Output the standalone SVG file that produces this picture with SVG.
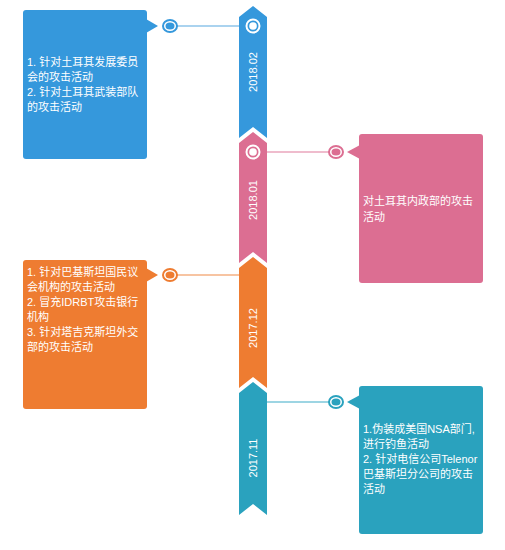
<svg xmlns="http://www.w3.org/2000/svg" width="505" height="550" viewBox="0 0 505 550">
<style>
text{font-family:"Liberation Sans","Noto Sans CJK SC",sans-serif;font-size:11px;fill:#fff}
.rt{text-anchor:middle}
.ring{fill:none;stroke:#fff;stroke-width:2}
.dot{fill:#fff}
.b{fill:#3598dc}.p{fill:#dc6e92}.o{fill:#ee7c31}.t{fill:#2aa2be}
</style>
<rect width="505" height="550" fill="#fff"/>
<g id="ribbon-2018-02">
<polygon class="b" points="239,17 253,6 267,17 267,138 253,127 239,138"/>
<circle class="ring" cx="253" cy="26" r="6.5"/><circle class="dot" cx="253" cy="26" r="3.8"/>
<text class="rt" transform="translate(257,72) rotate(-90)">2018.02</text>
</g>
<g id="ribbon-2018-01">
<polygon class="p" points="239,143 253,132 267,143 267,263 253,252 239,263"/>
<circle class="ring" cx="253" cy="152" r="6.5"/><circle class="dot" cx="253" cy="152" r="3.8"/>
<text class="rt" transform="translate(257,200) rotate(-90)">2018.01</text>
</g>
<g id="ribbon-2017-12">
<polygon class="o" points="239,268 253,257 267,268 267,388 253,377 239,388"/>
<text class="rt" transform="translate(257,328) rotate(-90)">2017.12</text>
</g>
<g id="ribbon-2017-11">
<polygon class="t" points="239,393 253,382 267,393 267,515 253,504 239,515"/>
<text class="rt" transform="translate(257,458) rotate(-90)">2017.11</text>
</g>
<g id="connectors">
<line x1="177" y1="26" x2="239" y2="26" stroke="#8ec5ea" stroke-width="1.5"/>
<ellipse cx="170" cy="26" rx="7" ry="6" fill="#fff" stroke="#3598dc" stroke-width="2"/>
<ellipse cx="170" cy="26" rx="4.5" ry="3.5" class="b"/>
<line x1="267" y1="152" x2="329" y2="152" stroke="#eaa6bd" stroke-width="1.5"/>
<ellipse cx="336" cy="152" rx="7" ry="6" fill="#fff" stroke="#dc6e92" stroke-width="2"/>
<ellipse cx="336" cy="152" rx="4.5" ry="3.5" class="p"/>
<line x1="177" y1="275" x2="239" y2="275" stroke="#f4b183" stroke-width="1.5"/>
<ellipse cx="170" cy="275" rx="7" ry="6" fill="#fff" stroke="#ee7c31" stroke-width="2"/>
<ellipse cx="170" cy="275" rx="4.5" ry="3.5" class="o"/>
<line x1="267" y1="402" x2="329" y2="402" stroke="#7dc7da" stroke-width="1.5"/>
<ellipse cx="336" cy="402" rx="7" ry="6" fill="#fff" stroke="#2aa2be" stroke-width="2"/>
<ellipse cx="336" cy="402" rx="4.5" ry="3.5" class="t"/>
</g>
<g id="box-2018-02">
<rect class="b" x="23" y="10" width="124" height="149" rx="3"/>
<polygon class="b" points="146,19 158,26 146,33"/>
<text x="27" y="66">1. 针对土耳其发展委员</text>
<text x="27" y="81">会的攻击活动</text>
<text x="27" y="96">2. 针对土耳其武装部队</text>
<text x="27" y="111">的攻击活动</text>
</g>
<g id="box-2018-01">
<rect class="p" x="359" y="134" width="124" height="149" rx="3"/>
<polygon class="p" points="360,145 347,152 360,159"/>
<text x="363" y="205">对土耳其内政部的攻击</text>
<text x="363" y="221">活动</text>
</g>
<g id="box-2017-12">
<rect class="o" x="23" y="260" width="124" height="149" rx="3"/>
<polygon class="o" points="146,268 158,275 146,282"/>
<text x="27" y="276">1. 针对巴基斯坦国民议</text>
<text x="27" y="291">会机构的攻击活动</text>
<text x="27" y="306">2. 冒充IDRBT攻击银行</text>
<text x="27" y="321">机构</text>
<text x="27" y="336">3. 针对塔吉克斯坦外交</text>
<text x="27" y="351">部的攻击活动</text>
</g>
<g id="box-2017-11">
<rect class="t" x="359" y="386" width="124" height="148" rx="3"/>
<polygon class="t" points="360,395 347,402 360,409"/>
<text x="363" y="433">1.伪装成美国NSA部门,</text>
<text x="363" y="448">进行钓鱼活动</text>
<text x="363" y="463">2. 针对电信公司Telenor</text>
<text x="363" y="478">巴基斯坦分公司的攻击</text>
<text x="363" y="493">活动</text>
</g>
</svg>
